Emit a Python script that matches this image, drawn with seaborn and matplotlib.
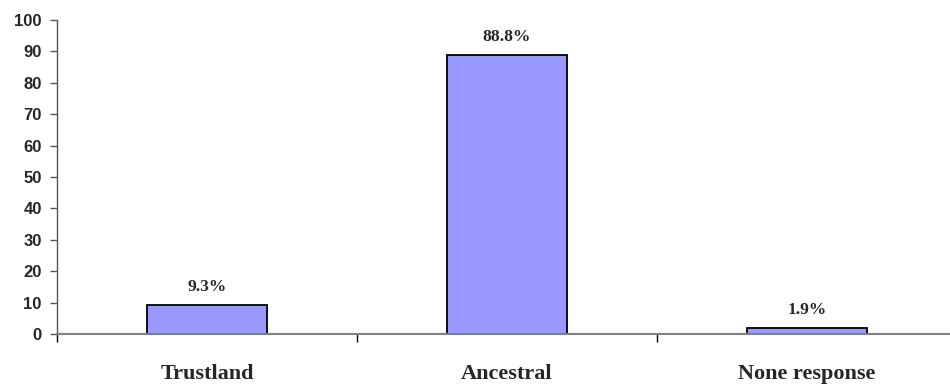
import numpy as np
import matplotlib
matplotlib.use("Agg")
import matplotlib.pyplot as plt
import seaborn as sns

categories = ["Trustland", "Ancestral", "None response"]
values = [9.3, 88.8, 1.9]
yticks = list(range(0, 101, 10))

sns.set_style("white")

fig = plt.figure(figsize=(9.5, 3.86), dpi=100)
ax = fig.add_axes([0.06, 0.135, 0.947, 0.813])

sns.barplot(
    x=categories,
    y=values,
    color="#9999FF",
    saturation=1,
    edgecolor="black",
    linewidth=1.3,
    width=0.4,
    ax=ax
)

# labels above bars
ax.bar_label(
    ax.containers[0],
    labels=[f"{v}%" for v in values],
    padding=7,
    fontfamily="Liberation Serif",
    fontweight="bold",
    fontsize=12.5
)

ax.set_xlim(-0.5, 2.5)
ax.set_ylim(0, 100)
ax.set_yticks(yticks)
ax.set_yticklabels([str(t) for t in yticks],
                   fontfamily="Liberation Sans", fontweight="bold", fontsize=12)

ax.set_xticks(range(len(categories)))
ax.set_xticklabels(categories, fontfamily="Liberation Serif",
                   fontweight="bold", fontsize=16)
ax.set_xticks(np.arange(-0.5, 2.6, 1.0), minor=True)
ax.tick_params(axis="x", which="major", bottom=False, length=0, pad=22)
ax.tick_params(axis="x", which="minor", bottom=True, length=6, width=1,
               color="black", direction="out")
ax.tick_params(axis="y", left=True, length=5, width=1, color="#555555",
               direction="out", pad=6)

ax.set_xlabel("")
ax.set_ylabel("")

sns.despine(ax=ax)
ax.spines["left"].set_color("#555555")
ax.spines["bottom"].set_color("#808080")
ax.spines["left"].set_linewidth(1)
ax.spines["bottom"].set_linewidth(1.5)

plt.savefig("out.png", dpi=100)
plt.close()
